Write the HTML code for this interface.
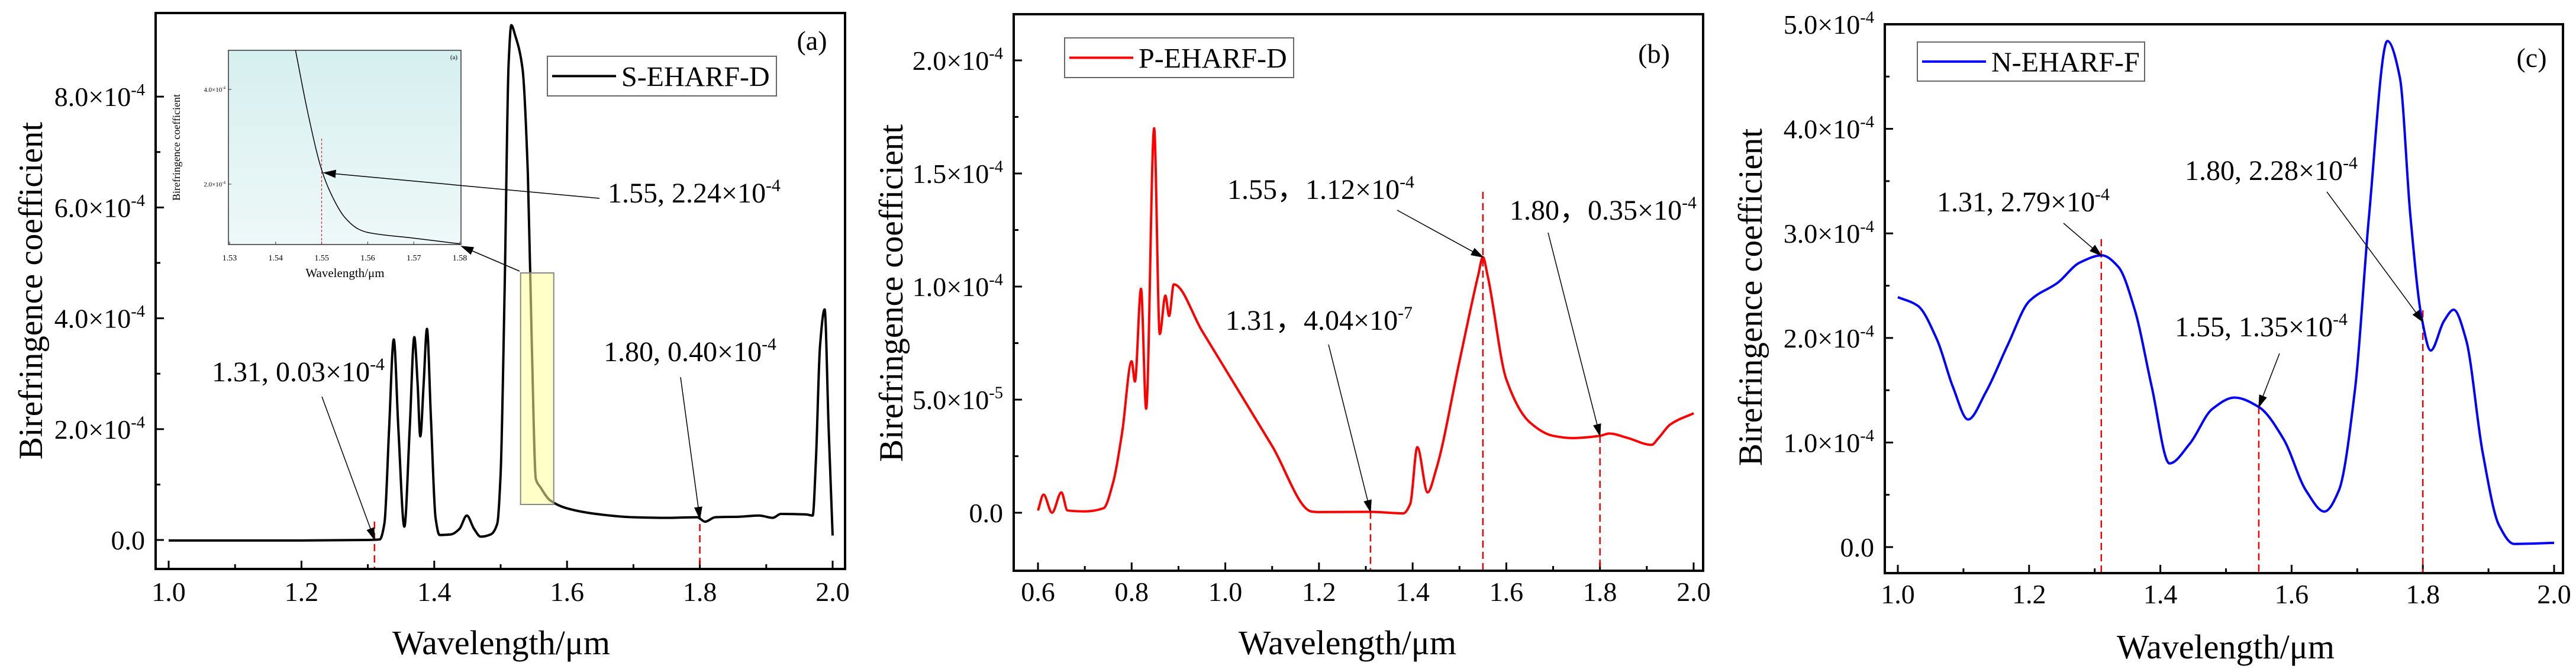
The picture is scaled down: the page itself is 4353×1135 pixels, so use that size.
<!DOCTYPE html>
<html><head><meta charset="utf-8"><style>
html,body{margin:0;padding:0;background:#fff}
svg{display:block}
svg text{font-family:"Liberation Serif","Times New Roman",serif;fill:#000}
</style></head><body>
<svg id="fig" width="4353" height="1135" viewBox="0 0 4353 1135" xmlns="http://www.w3.org/2000/svg" font-family="Liberation Serif, serif">
<defs>
<marker id="ahB" markerWidth="22" markerHeight="14" refX="20" refY="7" orient="auto" markerUnits="userSpaceOnUse" viewBox="0 0 22 14"><path d="M0,0 L22,7 L0,14 z" fill="#000"/></marker>
<linearGradient id="insetBg" x1="0" y1="0" x2="0" y2="1"><stop offset="0" stop-color="#d6efef"/><stop offset="1" stop-color="#eef8f8"/></linearGradient>
<clipPath id="insetClip"><rect x="388" y="85" width="391" height="330"/></clipPath>
</defs>
<rect x="0" y="0" width="4353" height="1135" fill="#fff"/>
</svg>
<script>
// ---------- data ----------
const aX=[1.0,1.1,1.2,1.3,1.318,1.325,1.332,1.339,1.346,1.355,1.363,1.37,1.375,1.379,1.384,1.389,1.395,1.402,1.408,1.425,1.438,1.449,1.46,1.47,1.485,1.495,1.5,1.506,1.512,1.516,1.522,1.533,1.541,1.547,1.553,1.56,1.574,1.6,1.65,1.7,1.75,1.796,1.808,1.823,1.86,1.889,1.91,1.922,1.96,1.97,1.975,1.981,1.988,1.994,2.0];
const aY=[-0.01,-0.01,-0.01,0,0.01,0.3,2.0,3.62,2.0,0.24,2.0,3.66,2.8,1.87,2.8,3.81,2.2,0.4,0.09,0.1,0.2,0.44,0.2,0.06,0.1,0.3,1.2,4.5,8.6,9.29,9.1,8.5,6.6,3.5,1.1,0.95,0.72,0.57,0.46,0.41,0.4,0.41,0.33,0.41,0.42,0.44,0.4,0.47,0.46,0.44,1.5,3.5,4.16,2.0,0.08];
const insetX=[1.5443,1.547,1.55,1.552,1.555,1.558,1.56,1.57,1.58];
const insetY=[4.83,3.5,2.3,1.8,1.3,1.05,0.98,0.86,0.74];
const bX=[0.6,0.612,0.63,0.65,0.663,0.7,0.74,0.76,0.78,0.8,0.807,0.82,0.831,0.848,0.86,0.872,0.88,0.89,0.95,1.0,1.1,1.185,1.2,1.31,1.38,1.395,1.41,1.432,1.45,1.5,1.54,1.55,1.56,1.6,1.65,1.7,1.74,1.8,1.82,1.86,1.91,1.925,1.95,2.0];
const bY=[0.1,0.8,0,0.9,0.1,0.06,0.2,1.3,3.6,6.7,5.8,9.9,4.6,17.0,7.9,9.6,8.7,10.1,8.05,6.35,2.95,0.05,0.03,0.04,-0.03,0.4,2.9,0.9,1.9,6.7,10.5,11.3,10.5,5.9,4.0,3.4,3.3,3.4,3.5,3.3,3.0,3.3,3.9,4.4];
const cX=[1.0,1.03,1.06,1.084,1.107,1.134,1.168,1.2,1.244,1.277,1.311,1.336,1.361,1.387,1.414,1.445,1.479,1.513,1.55,1.588,1.622,1.65,1.672,1.697,1.718,1.746,1.765,1.781,1.798,1.812,1.832,1.847,1.866,1.891,1.916,1.939,2.0];
const cY=[2.39,2.31,1.98,1.53,1.22,1.48,1.94,2.35,2.53,2.72,2.79,2.68,2.27,1.53,0.80,0.99,1.32,1.43,1.34,1.03,0.54,0.34,0.54,1.53,3.17,4.84,4.49,3.17,2.2,1.88,2.16,2.27,1.98,0.91,0.21,0.03,0.04];
const aYTicks=[0,2,4,6,8];
const aYLabels=["0.0","2.0×10","4.0×10","6.0×10","8.0×10"];
const aYExp=["","-4","-4","-4","-4"];
const bYTicks=[0,5,10,15,20];
const bYLabels=["0.0","5.0×10","1.0×10","1.5×10","2.0×10"];
const bYExp=["","-5","-4","-4","-4"];
const cYTicks=[0,1,2,3,4,5];
const cYLabels=["0.0","1.0×10","2.0×10","3.0×10","4.0×10","5.0×10"];
const cYExp=["","-4","-4","-4","-4","-4"];
const abcXTicks=[1.0,1.2,1.4,1.6,1.8,2.0];
const bXTicks=[0.6,0.8,1.0,1.2,1.4,1.6,1.8,2.0];
const insetXTicks=[1.53,1.54,1.55,1.56,1.57,1.58];
const insetYTicks=[2,4];

// ---------- helpers ----------
const NS="http://www.w3.org/2000/svg";
const FONT='"Liberation Serif", serif';
const svg=document.getElementById('fig');
function mk(tag,attrs,parent){const e=document.createElementNS(NS,tag);for(const k in attrs)e.setAttribute(k,attrs[k]);if(tag==='text')e.setAttribute('font-family',FONT);(parent||svg).appendChild(e);return e;}
function monoPath(px,py){
  const n=px.length;if(n<2)return '';
  const d=[],m=[];
  for(let i=0;i<n-1;i++)d.push((py[i+1]-py[i])/(px[i+1]-px[i]));
  m[0]=d[0];m[n-1]=d[n-2];
  for(let i=1;i<n-1;i++){ if(d[i-1]*d[i]<=0)m[i]=0; else { const h0=px[i]-px[i-1],h1=px[i+1]-px[i]; const w1=2*h1+h0,w2=h1+2*h0; m[i]=(w1+w2)/(w1/d[i-1]+w2/d[i]); } }
  let s='M'+px[0].toFixed(1)+','+py[0].toFixed(1);
  for(let i=0;i<n-1;i++){const h=(px[i+1]-px[i])/3;
    s+=' C'+(px[i]+h).toFixed(1)+','+(py[i]+m[i]*h).toFixed(1)+' '+(px[i+1]-h).toFixed(1)+','+(py[i+1]-m[i+1]*h).toFixed(1)+' '+px[i+1].toFixed(1)+','+py[i+1].toFixed(1);}
  return s;
}
function labelSup(x,y,base,exp,size,anchor,name){
  const t=mk('text',{x:x,y:y,'font-size':size,'text-anchor':anchor});
  
  
  t.appendChild(document.createTextNode(base));
  if(exp){const s=mk('tspan',{dy:-size*0.4,'font-size':size*0.62},t);s.textContent=exp;}
  return t;
}

function drawPanel(P){
  const g=mk('g',{});
  
  
  const sx=v=>P.x0px+(v-P.x0)*P.xs, sy=v=>P.y0px-v*P.ys;
  P.yT.forEach((v,i)=>{
    const t=mk('line',{x1:P.L,x2:P.L+14,y1:sy(v),y2:sy(v),stroke:'#000','stroke-width':3},g);
    
    
    labelSup(P.L-18,sy(v)+16,P.yL[i],P.yE[i],46,'end','y-tick-label');
    if(i<P.yT.length-1){const mv=(v+P.yT[i+1])/2;
      const mt=mk('line',{x1:P.L,x2:P.L+8,y1:sy(mv),y2:sy(mv),stroke:'#000','stroke-width':3},g);
      
      }
  });
  P.xT.forEach((v,i)=>{
    const t=mk('line',{x1:sx(v),x2:sx(v),y1:P.B,y2:P.B-14,stroke:'#000','stroke-width':3},g);
    
    
    const lb=mk('text',{x:sx(v),y:P.xLabY,'font-size':46,'text-anchor':'middle'},g);
    
    
    lb.textContent=v.toFixed(1);
    if(i<P.xT.length-1){const mv=(v+P.xT[i+1])/2;
      const mt=mk('line',{x1:sx(mv),x2:sx(mv),y1:P.B,y2:P.B-8,stroke:'#000','stroke-width':3},g);
      
      }
  });
  P.marks.forEach((mx,k)=>{
    let yv=null;for(let i=0;i<P.X.length-1;i++){if(mx>=P.X[i]&&mx<=P.X[i+1]){yv=P.Y[i]+(P.Y[i+1]-P.Y[i])*(mx-P.X[i])/(P.X[i+1]-P.X[i]);break;}}
    const top=Math.min(sy(yv),P.dashTop[k]);
    const dl=mk('line',{x1:sx(mx),x2:sx(mx),y1:top,y2:P.B,stroke:'#e00','stroke-width':2.5,'stroke-dasharray':'12,7'},g);
    
    
  });
  const c=mk('path',{d:monoPath(P.X.map(sx),P.Y.map(sy)),fill:'none',stroke:P.color,'stroke-width':4,'stroke-linejoin':'round'},g);
  
  
  const f=mk('rect',{x:P.L,y:P.T,width:P.R-P.L,height:P.B-P.T,fill:'none',stroke:'#000','stroke-width':4},g);
  
  
  const xt=mk('text',{x:P.xTitleX,y:P.xTitleY,'font-size':58,'text-anchor':'middle'},g);
  
  
  xt.textContent='Wavelength/μm';
  const yt=mk('text',{x:0,y:0,'font-size':57,'text-anchor':'middle',transform:'translate('+(P.yTitleX)+','+P.yTitleY+') rotate(-90)'},g);
  
  
  yt.textContent='Birefringence coefficient';
  const lg=mk('rect',{x:P.leg[0],y:P.leg[1],width:P.leg[2],height:P.leg[3],fill:'#fff',stroke:'#666','stroke-width':2},g);
  
  
  const ll=mk('line',{x1:P.leg[0]+8,x2:P.leg[0]+116,y1:P.leg[1]+P.leg[3]/2,y2:P.leg[1]+P.leg[3]/2,stroke:P.color,'stroke-width':4},g);
  
  
  const lt=mk('text',{x:P.leg[0]+125,y:P.leg[1]+P.leg[3]/2+17,'font-size':48},g);
  
  
  lt.textContent=P.name;
  const pl=mk('text',{x:P.plX,y:P.plY,'font-size':46,'text-anchor':'middle'},g);
  
  
  pl.textContent=P.pl;
  P.ann.forEach(a=>{
    labelSup(a.tx,a.ty,a.base,a.exp,48,'start','annotation-label');
    let yv=null;for(let i=0;i<P.X.length-1;i++){if(a.px>=P.X[i]&&a.px<=P.X[i+1]){yv=P.Y[i]+(P.Y[i+1]-P.Y[i])*(a.px-P.X[i])/(P.X[i+1]-P.X[i]);break;}}
    const ar=mk('line',{x1:a.ax,y1:a.ay,x2:sx(a.px),y2:sy(yv),stroke:'#000','stroke-width':1.5,'marker-end':'url(#ahB)'},g);
    
    
  });
  return {sx,sy};
}

const A=drawPanel({id:'s-eharf-d',name:'S-EHARF-D',color:'#000',X:aX,Y:aY,x0:1.0,x0px:285,xs:1122,y0px:912,ys:93.6,
 L:263,R:1428,T:22,B:961,yT:aYTicks,yL:aYLabels,yE:aYExp,xT:abcXTicks,xLabY:1015,xTitleX:847,xTitleY:1105,yTitleX:71,yTitleY:491,
 leg:[925,95,387,67],plX:1372,plY:84,pl:'(a)',marks:[1.31,1.8],dashTop:[881,866],
 ann:[{tx:358,ty:644,base:'1.31, 0.03×10',exp:'-4',ax:544,ay:670,px:1.31},
      {tx:1020,ty:610,base:'1.80, 0.40×10',exp:'-4',ax:1150,ay:637,px:1.8}]});

const yb=mk('rect',{x:A.sx(1.53),y:461,width:A.sx(1.58)-A.sx(1.53),height:391,fill:'#ffff99','fill-opacity':0.55,stroke:'#888','stroke-width':2});


const ig=mk('g',{});


const isx=v=>388+(v-1.53)*7780, isy=v=>311-(v-2)*80;
const ibg=mk('rect',{x:386,y:85,width:393,height:328,fill:'url(#insetBg)',stroke:'#333','stroke-width':1.5},ig);


insetXTicks.forEach(v=>{
  const t=mk('line',{x1:isx(v),x2:isx(v),y1:413,y2:408,stroke:'#333','stroke-width':1},ig);
  
  
  const l=mk('text',{x:isx(v),y:440,'font-size':14,'text-anchor':'middle'},ig);
  
  
  l.textContent=v.toFixed(2);
});
insetYTicks.forEach(v=>{
  const t=mk('line',{x1:386,x2:391,y1:isy(v),y2:isy(v),stroke:'#333','stroke-width':1},ig);
  
  
  labelSup(381,isy(v)+4,v.toFixed(1)+'×10','-4',11,'end','inset-y-tick-label');
});
const idl=mk('line',{x1:isx(1.55),x2:isx(1.55),y1:234,y2:413,stroke:'#e00','stroke-width':1,'stroke-dasharray':'4,3'},ig);


const ic=mk('path',{d:monoPath(insetX.map(isx),insetY.map(isy)),fill:'none',stroke:'#000','stroke-width':1.5,'clip-path':'url(#insetClip)'},ig);


const ixt=mk('text',{x:583,y:468,'font-size':21,'text-anchor':'middle'},ig);


ixt.textContent='Wavelength/μm';
const iyt=mk('text',{x:0,y:0,'font-size':18,'text-anchor':'middle',transform:'translate(304,249) rotate(-90)'},ig);


iyt.textContent='Birefringence coefficient';
const ipl=mk('text',{x:767,y:100,'font-size':11,'text-anchor':'middle'},ig);


ipl.textContent='(a)';
labelSup(1027,342,'1.55, 2.24×10','-4',48,'start','annotation-label');
const ia1=mk('line',{x1:1013,y1:335,x2:isx(1.5505),y2:isy(2.24),stroke:'#000','stroke-width':1.5,'marker-end':'url(#ahB)'});


const ia2=mk('line',{x1:878,y1:458,x2:780,y2:416,stroke:'#000','stroke-width':1.5,'marker-end':'url(#ahB)'});



drawPanel({id:'p-eharf-d',name:'P-EHARF-D',color:'#f00',X:bX,Y:bY,x0:0.6,x0px:1754,xs:791.4,y0px:866,ys:38.2,
 L:1713,R:2878,T:24,B:964,yT:bYTicks,yL:bYLabels,yE:bYExp,xT:bXTicks,xLabY:1015,xTitleX:2277,xTitleY:1105,yTitleX:1525,yTitleY:495,
 leg:[1799,64,387,67],plX:2795,plY:106,pl:'(b)',marks:[1.31,1.55,1.8],dashTop:[866,324,737],
 ann:[{tx:2074,ty:336,base:'1.55，1.12×10',exp:'-4',ax:2361,ay:355,px:1.55},
      {tx:2551,ty:371,base:'1.80，0.35×10',exp:'-4',ax:2616,ay:393,px:1.8},
      {tx:2071,ty:557,base:'1.31，4.04×10',exp:'-7',ax:2245,ay:582,px:1.31}]});

drawPanel({id:'n-eharf-f',name:'N-EHARF-F',color:'#00f',X:cX,Y:cY,x0:1.0,x0px:3207,xs:1109,y0px:924,ys:176.6,
 L:3185,R:4331,T:41,B:968,yT:cYTicks,yL:cYLabels,yE:cYExp,xT:abcXTicks,xLabY:1019,xTitleX:3761,xTitleY:1112,yTitleX:2977,yTitleY:502,
 leg:[3240,71,384,66],plX:4278,plY:113,pl:'(c)',marks:[1.31,1.55,1.8],dashTop:[404,688,524],
 ann:[{tx:3273,ty:357,base:'1.31, 2.79×10',exp:'-4',ax:3487,ay:377,px:1.31},
      {tx:3692,ty:304,base:'1.80, 2.28×10',exp:'-4',ax:3932,ay:324,px:1.8},
      {tx:3675,ty:568,base:'1.55, 1.35×10',exp:'-4',ax:3852,ay:597,px:1.55}]});
</script>
</body></html>
